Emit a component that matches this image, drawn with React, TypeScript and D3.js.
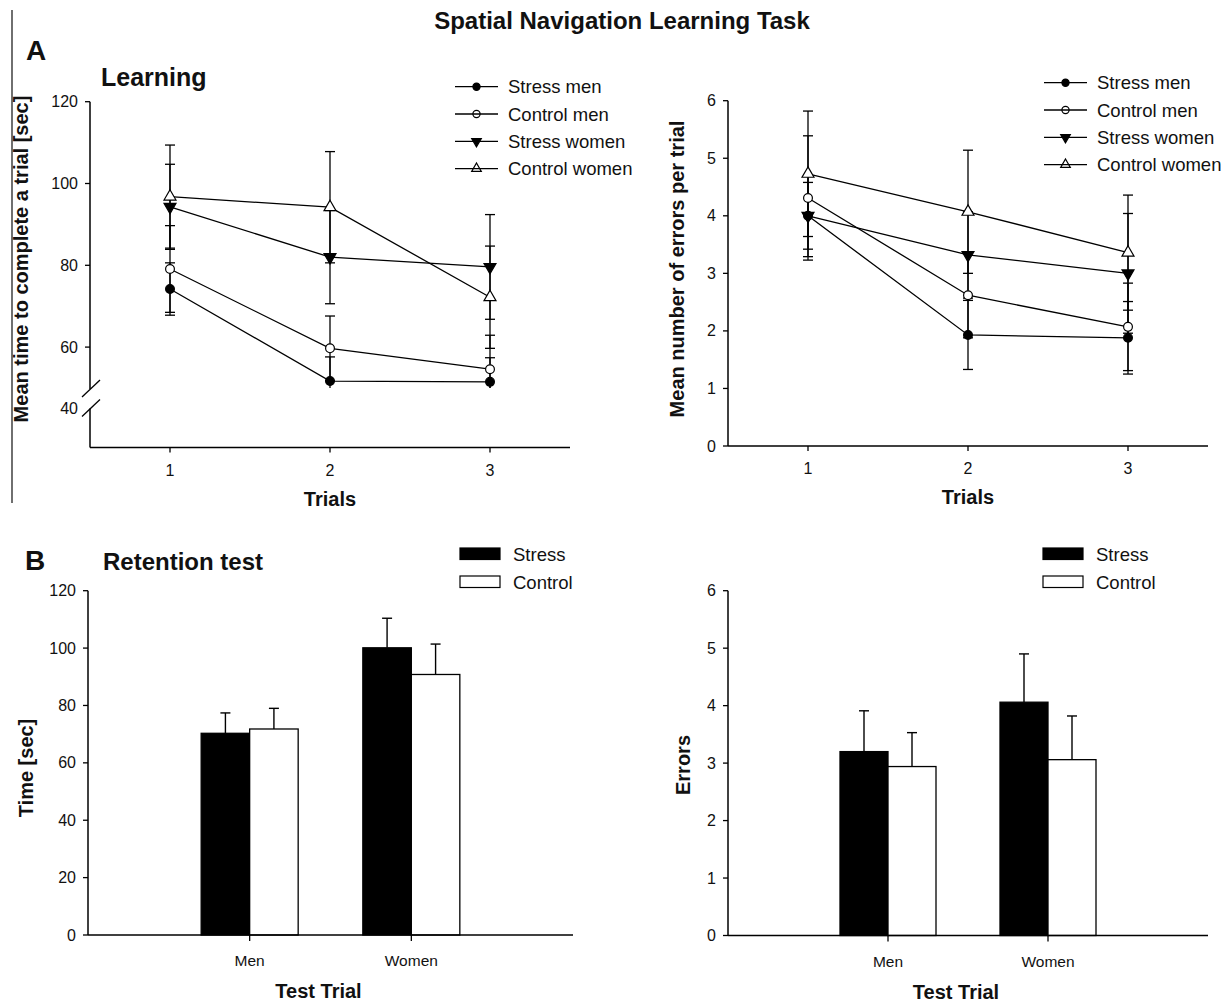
import * as d3 from 'd3';
import { useEffect, useRef } from 'react';

// trials and series for the learning panels
const trials = [1, 2, 3];
const seriesNames = ['Stress men', 'Control men', 'Stress women', 'Control women'];

const timeMeans = [
    [74.2, 51.7, 51.5],
    [79.1, 59.7, 54.6],
    [94.3, 82.0, 79.6],
    [96.8, 94.2, 72.2],
];
const timeErrs = [
    [6.4, 5.9, 5.9],
    [10.6, 7.9, 8.3],
    [10.4, 11.4, 12.8],
    [12.6, 13.6, 12.5],
];

const errorMeans = [
    [4.0, 1.93, 1.88],
    [4.31, 2.62, 2.07],
    [4.0, 3.32, 3.0],
    [4.73, 4.07, 3.36],
];
const errorErrs = [
    [0.58, 0.6, 0.63],
    [1.08, 0.74, 0.76],
    [0.71, 0.75, 1.04],
    [1.09, 1.07, 1.0],
];

// retention test bars
const groups = ['Men', 'Women'];
const barNames = ['Stress', 'Control'];
const retTimeMeans = [
    [70.3, 100.1],
    [71.8, 90.8],
];
const retTimeErrs = [
    [7.1, 10.3],
    [7.2, 10.6],
];
const retErrMeans = [
    [3.2, 4.06],
    [2.94, 3.06],
];
const retErrErrs = [
    [0.71, 0.84],
    [0.59, 0.76],
];

const timeTicks = [40, 60, 80, 100, 120];
const errTicks = [0, 1, 2, 3, 4, 5, 6];
const retTimeTicks = [0, 20, 40, 60, 80, 100, 120];

const FONT = "'Liberation Sans', Arial, sans-serif";

const drawMarker = (g, i, x, y, small) => {
    const r = small ? 3.6 : 4.4;
    if (i < 2) {
        g.append('circle')
            .attr('cx', x)
            .attr('cy', y)
            .attr('r', r)
            .attr('fill', i === 0 ? '#000' : '#fff')
            .attr('stroke', '#000')
            .attr('stroke-width', 1.2);
    } else {
        const size = small ? 40 : 62;
        g.append('path')
            .attr('d', d3.symbol().type(d3.symbolTriangle).size(size)())
            .attr('transform', `translate(${x},${y})${i === 2 ? ' rotate(180)' : ''}`)
            .attr('fill', i === 2 ? '#000' : '#fff')
            .attr('stroke', '#000')
            .attr('stroke-width', 1.2);
    }
};

const App = () => {
    const svgRef = useRef(null);

    useEffect(() => {
        const width = 1231;
        const height = 1001;
        const svg = d3.select(svgRef.current);
        svg.selectAll('*').remove();
        svg.attr('width', width).attr('height', height);
        svg.append('rect').attr('width', width).attr('height', height).attr('fill', '#fff');

        const text = (x, y, str, size, opts = {}) =>
            svg
                .append('text')
                .attr('x', x)
                .attr('y', y)
                .attr('font-family', FONT)
                .attr('font-size', size)
                .attr('font-weight', opts.bold ? 'bold' : 'normal')
                .attr('text-anchor', opts.anchor || 'start')
                .attr('fill', '#111')
                .text(str);

        const rotText = (x, y, str, size) =>
            svg
                .append('text')
                .attr('transform', `translate(${x},${y}) rotate(-90)`)
                .attr('font-family', FONT)
                .attr('font-size', size)
                .attr('font-weight', 'bold')
                .attr('text-anchor', 'middle')
                .attr('fill', '#111')
                .text(str);

        // title and panel labels
        text(622, 29, 'Spatial Navigation Learning Task', 24, { bold: true, anchor: 'middle' });
        text(26, 60, 'A', 28, { bold: true });
        text(101, 86, 'Learning', 25, { bold: true });
        text(25, 570, 'B', 28, { bold: true });
        text(103, 570, 'Retention test', 24, { bold: true });

        // vertical separator at left
        svg.append('line')
            .attr('x1', 12).attr('x2', 12).attr('y1', 10).attr('y2', 503)
            .attr('stroke', '#333').attr('stroke-width', 1.4);

        const line = (x1, y1, x2, y2, w = 1.4) =>
            svg.append('line')
                .attr('x1', x1).attr('y1', y1).attr('x2', x2).attr('y2', y2)
                .attr('stroke', '#000').attr('stroke-width', w);

        // ---------- line panels ----------
        const linePanel = (cfg) => {
            const { x, y, means, errs, ticks, breakAt, legendX, legendY, ylabel, ylabelX, ylabelY } = cfg;
            const g = svg.append('g');

            // x axis
            const [x0, x1] = x.range();
            const yBottom = y.range()[0];
            line(x0, yBottom, x1, yBottom, 1.5);
            trials.forEach((t) => {
                line(x(t), yBottom, x(t), yBottom + 5, 1.3);
                text(x(t), yBottom + 28, String(t), 16, { anchor: 'middle' });
            });

            // y axis (with a break for the time panel)
            const yTop = y(ticks[ticks.length - 1]);
            if (breakAt) {
                const yb1 = y(breakAt[1]);
                const yb0 = y(breakAt[0]);
                line(x0, yTop, x0, yb1 + 1, 1.5);
                line(x0, yb0, x0, yBottom, 1.5);
                [yb1 + 1, yb0].forEach((yy) => line(x0 - 8, yy + 8, x0 + 10, yy - 9, 1.3));
            } else {
                line(x0, yTop, x0, yBottom, 1.5);
            }
            ticks.forEach((t) => {
                const yy = y(t);
                if (!breakAt || t !== breakAt[0]) line(x0 - 5, yy, x0, yy, 1.3);
                text(x0 - 12, yy + 5.5, String(t), 16, { anchor: 'end' });
            });

            rotText(ylabelX, ylabelY, ylabel, 20);
            text((x0 + x1) / 2, yBottom + 58, 'Trials', 20, { bold: true, anchor: 'middle' });

            // error bars
            means.forEach((m, i) => {
                m.forEach((v, j) => {
                    const e = errs[i][j];
                    const cx = x(trials[j]);
                    const hi = v + e;
                    let lo = v - e;
                    let capLo = true;
                    if (breakAt && lo < breakAt[1]) {
                        lo = breakAt[1];
                        capLo = false;
                    }
                    g.append('line')
                        .attr('x1', cx).attr('x2', cx).attr('y1', y(hi)).attr('y2', y(lo))
                        .attr('stroke', '#000').attr('stroke-width', 1.3);
                    g.append('line')
                        .attr('x1', cx - 5).attr('x2', cx + 5).attr('y1', y(hi)).attr('y2', y(hi))
                        .attr('stroke', '#000').attr('stroke-width', 1.3);
                    if (capLo) {
                        g.append('line')
                            .attr('x1', cx - 5).attr('x2', cx + 5).attr('y1', y(lo)).attr('y2', y(lo))
                            .attr('stroke', '#000').attr('stroke-width', 1.3);
                    }
                });
            });

            // lines
            const path = d3.line().x((d, j) => x(trials[j])).y((d) => y(d));
            means.forEach((m) => {
                g.append('path').attr('d', path(m)).attr('fill', 'none')
                    .attr('stroke', '#000').attr('stroke-width', 1.3);
            });
            means.forEach((m, i) => {
                m.forEach((v, j) => drawMarker(g, i, x(trials[j]), y(v), false));
            });

            // legend
            seriesNames.forEach((name, i) => {
                const ly = legendY + i * 27.3;
                line(legendX, ly, legendX + 43, ly, 1.3);
                drawMarker(g, i, legendX + 21.5, ly, true);
                text(legendX + 53, ly + 6.5, name, 18.5);
            });
        };

        linePanel({
            x: d3.scaleLinear().domain([0.5, 3.5]).range([90, 570]),
            y: d3.scaleLinear().domain([30, 40, 50, 120]).range([447.5, 408.5, 388, 101.7]),
            means: timeMeans,
            errs: timeErrs,
            ticks: timeTicks,
            breakAt: [40, 50],
            legendX: 455,
            legendY: 86.7,
            ylabel: 'Mean time to complete a trial [sec]',
            ylabelX: 28,
            ylabelY: 259,
        });

        linePanel({
            x: d3.scaleLinear().domain([0.5, 3.5]).range([728, 1208]),
            y: d3.scaleLinear().domain([0, 6]).range([446, 100.7]),
            means: errorMeans,
            errs: errorErrs,
            ticks: errTicks,
            breakAt: null,
            legendX: 1044,
            legendY: 82.7,
            ylabel: 'Mean number of errors per trial',
            ylabelX: 684,
            ylabelY: 269,
        });

        // ---------- bar panels ----------
        const barPanel = (cfg) => {
            const { x, y, means, errs, ticks, legendX, ylabel, ylabelX, ylabelY } = cfg;
            const g = svg.append('g');
            const [x0, x1] = x.range();
            const yBottom = y.range()[0];
            const bw = x.step() * 0.3;

            groups.forEach((grp, j) => {
                barNames.forEach((b, i) => {
                    const left = i === 0 ? x(grp) - bw : x(grp);
                    const v = means[i][j];
                    const e = errs[i][j];
                    const cx = left + bw / 2;
                    g.append('line')
                        .attr('x1', cx).attr('x2', cx).attr('y1', y(v)).attr('y2', y(v + e))
                        .attr('stroke', '#000').attr('stroke-width', 1.4);
                    g.append('line')
                        .attr('x1', cx - 5).attr('x2', cx + 5).attr('y1', y(v + e)).attr('y2', y(v + e))
                        .attr('stroke', '#000').attr('stroke-width', 1.4);
                    g.append('rect')
                        .attr('x', left).attr('y', y(v)).attr('width', bw).attr('height', yBottom - y(v))
                        .attr('fill', i === 0 ? '#000' : '#fff')
                        .attr('stroke', '#000').attr('stroke-width', 1.3);
                });
            });

            line(x0, yBottom, x1, yBottom, 1.5);
            line(x0, y(ticks[ticks.length - 1]), x0, yBottom, 1.5);
            ticks.forEach((t) => {
                line(x0 - 5, y(t), x0, y(t), 1.3);
                text(x0 - 12, y(t) + 5.5, String(t), 16, { anchor: 'end' });
            });
            groups.forEach((grp) => {
                line(x(grp), yBottom, x(grp), yBottom + 6, 1.3);
                text(x(grp), yBottom + 31, grp, 15.5, { anchor: 'middle' });
            });

            rotText(ylabelX, ylabelY, ylabel, 20);
            text((x0 + x1) / 2 - 12, yBottom + 63, 'Test Trial', 20, { bold: true, anchor: 'middle' });

            barNames.forEach((b, i) => {
                const ly = 548 + i * 28;
                g.append('rect')
                    .attr('x', legendX).attr('y', ly).attr('width', 40).attr('height', 11.5)
                    .attr('fill', i === 0 ? '#000' : '#fff')
                    .attr('stroke', '#000').attr('stroke-width', 1.2);
                text(legendX + 53, ly + 12.5, b, 18.5);
            });
        };

        barPanel({
            x: d3.scalePoint().domain(groups).range([88, 573]).padding(1),
            y: d3.scaleLinear().domain([0, 120]).range([935, 590.7]),
            means: retTimeMeans,
            errs: retTimeErrs,
            ticks: retTimeTicks,
            legendX: 460,
            ylabel: 'Time [sec]',
            ylabelX: 33,
            ylabelY: 768,
        });

        barPanel({
            x: d3.scalePoint().domain(groups).range([728, 1208]).padding(1),
            y: d3.scaleLinear().domain([0, 6]).range([935.5, 590.7]),
            means: retErrMeans,
            errs: retErrErrs,
            ticks: errTicks,
            legendX: 1043,
            ylabel: 'Errors',
            ylabelX: 690,
            ylabelY: 765,
        });
    }, []);

    return <svg ref={svgRef} style={{ position: 'absolute', left: 0, top: 0 }} />;
};

export default App;
